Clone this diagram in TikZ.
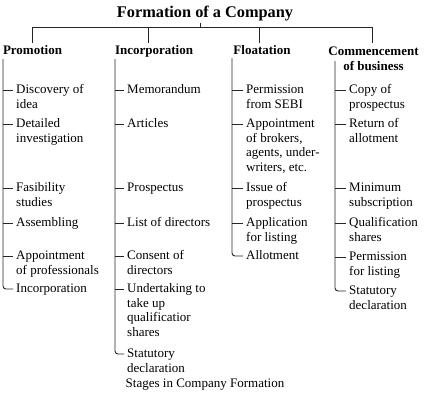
\documentclass[tikz,border=0pt]{standalone}
\usepackage{fontspec}
\setmainfont{Liberation Serif}
\newcommand\colitem[5]{%
  \node[itemtext] (#2) at (#3-1.5,#4+4.5) {\begin{tabular}[t]{@{}l@{}}#5\end{tabular}};
  \coordinate (#2t) at ([xshift=-1.5pt,yshift=3.5pt]#2.base west);
  \draw[conn] (#1 |- #2t) -- (#2t);}
\newcommand\lastitem[5]{%
  \node[itemtext] (#2) at (#3-1.5,#4+4.5) {\begin{tabular}[t]{@{}l@{}}#5\end{tabular}};
  \coordinate (#2t) at ([xshift=-1.5pt,yshift=3.5pt]#2.base west);
  \draw[conn,rounded corners=3pt] (#1) |- (#2t);}
\begin{document}
\begin{tikzpicture}[x=1pt,y=-1pt,
  conn/.style={line width=0.9pt,black!85},
  itemtext/.style={font=\fontsize{13}{14.7}\selectfont,inner sep=1.5pt,anchor=base west},
  head/.style={font=\fontsize{13}{15}\selectfont\bfseries,inner sep=1.5pt,anchor=base},
  titletext/.style={font=\fontsize{16.3}{18}\selectfont\bfseries,inner sep=1pt}]
\useasboundingbox (0,0) rectangle (435,404);
% title and headers
\node[titletext] (title) at (205,14) {Formation of a Company};
\node[head] (hP) at (32.5,54) {Promotion};
\node[head] (hI) at (154,54) {Incorporation};
\node[head] (hF) at (262,54) {Floatation};
\node[head] (hC) at (373.5,55) {\begin{tabular}[t]{@{}c@{}}Commencement\\of business\end{tabular}};
% top bar
\coordinate (tj) at (200,27);
\coordinate (b1) at (32,27);
\coordinate (b2) at (148,27);
\coordinate (b3) at (259,27);
\coordinate (b4) at (372,27);
\draw[conn] (tj |- title.south) -- (tj);
\draw[conn] (b1) -- (b4);
\draw[conn] (b1) -- (b1 |- hP.north);
\draw[conn] (b2) -- (b2 |- hI.north);
\draw[conn] (b3) -- (b3 |- hF.north);
\draw[conn] (b4) -- (b4 |- hC.north);
% column lines tops
\coordinate (vP) at (3,59);
\coordinate (vI) at (115,59);
\coordinate (vF) at (232,58);
\coordinate (vC) at (335,61);
% Promotion
\colitem{vP}{pA}{16}{89}{Discovery of\\idea}
\colitem{vP}{pB}{16}{123}{Detailed\\investigation}
\colitem{vP}{pC}{16}{187}{Fasibility\\studies}
\colitem{vP}{pD}{16}{222}{Assembling}
\colitem{vP}{pE}{16}{255}{Appointment\\of professionals}
\lastitem{vP}{pF}{16}{288}{Incorporation}
% Incorporation
\colitem{vI}{iA}{127}{89}{Memorandum}
\colitem{vI}{iB}{127}{123}{Articles}
\colitem{vI}{iC}{127}{187}{Prospectus}
\colitem{vI}{iD}{127}{222}{List of directors}
\colitem{vI}{iE}{127}{255}{Consent of\\directors}
\colitem{vI}{iF}{127}{288}{Undertaking to\\take up\\qualificatior\\shares}
\lastitem{vI}{iG}{127}{353}{Statutory\\declaration}
% Floatation
\colitem{vF}{fA}{246}{89}{Permission\\from SEBI}
\colitem{vF}{fB}{246}{123}{Appointment\\of brokers,\\agents, under-\\writers, etc.}
\colitem{vF}{fC}{246}{187}{Issue of\\prospectus}
\colitem{vF}{fD}{246}{222}{Application\\for listing}
\lastitem{vF}{fE}{246}{255}{Allotment}
% Commencement
\colitem{vC}{cA}{349}{89}{Copy of\\prospectus}
\colitem{vC}{cB}{349}{123}{Return of\\allotment}
\colitem{vC}{cC}{349}{187}{Minimum\\subscription}
\colitem{vC}{cD}{349}{222}{Qualification\\shares}
\colitem{vC}{cE}{349}{256}{Permission\\for listing}
\lastitem{vC}{cF}{349}{290}{Statutory\\declaration}
% caption
\node[font=\fontsize{13}{15}\selectfont,anchor=base,inner sep=1pt] (cap) at (205,387.5) {Stages in Company Formation};
\end{tikzpicture}
\end{document}
